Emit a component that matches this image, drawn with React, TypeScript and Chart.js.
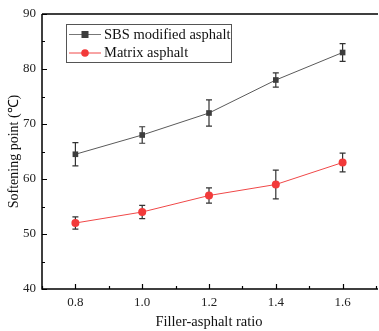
import React, { useEffect, useRef } from "react";
import { Chart, registerables } from "chart.js";

Chart.register(...registerables);

const ratios = [0.8, 1.0, 1.2, 1.4, 1.6];
const sbsValues = [64.5, 68, 72, 78, 83];
const sbsErrors = [2.1, 1.5, 2.4, 1.3, 1.6];
const matrixValues = [52, 54, 57, 59, 63];
const matrixErrors = [1.1, 1.2, 1.4, 2.6, 1.7];
const xMajorTicks = [0.8, 1.0, 1.2, 1.4, 1.6];
const xMinorTicks = [0.7, 0.9, 1.1, 1.3, 1.5, 1.7];
const yMajorTicks = [40, 50, 60, 70, 80, 90];
const yMinorTicks = [45, 55, 65, 75, 85];
const seriesNames = ["SBS modified asphalt", "Matrix asphalt"];

const FONT = '"Liberation Serif", "Times New Roman", serif';
const SBS_COLOR = "#3d3d3d";
const SBS_LINE = "#5a5a5a";
const RED = "#f23a3a";
const RED_LINE = "#f04848";

const errors = [sbsErrors, matrixErrors];

const framePlugin = {
  id: "frameTicks",
  afterDraw(chart: any) {
    const { ctx, chartArea: a, scales } = chart;
    const x = scales.x;
    const y = scales.y;
    ctx.save();
    ctx.strokeStyle = "#000";
    ctx.lineWidth = 1.5;
    ctx.beginPath();
    ctx.moveTo(a.left, a.top);
    ctx.lineTo(a.right + 2, a.top);
    ctx.moveTo(a.left, a.top);
    ctx.lineTo(a.left, a.bottom);
    ctx.lineTo(a.right + 2, a.bottom);
    ctx.stroke();
    ctx.lineWidth = 1.2;
    ctx.beginPath();
    xMajorTicks.forEach((v) => {
      const px = Math.round(x.getPixelForValue(v)) + 0.5;
      ctx.moveTo(px, a.bottom);
      ctx.lineTo(px, a.bottom - 5);
    });
    xMinorTicks.forEach((v) => {
      const px = Math.round(x.getPixelForValue(v)) + 0.5;
      ctx.moveTo(px, a.bottom);
      ctx.lineTo(px, a.bottom - 3);
    });
    yMajorTicks.forEach((v) => {
      const py = Math.round(y.getPixelForValue(v)) + 0.5;
      ctx.moveTo(a.left, py);
      ctx.lineTo(a.left + 5, py);
    });
    yMinorTicks.forEach((v) => {
      const py = Math.round(y.getPixelForValue(v)) + 0.5;
      ctx.moveTo(a.left, py);
      ctx.lineTo(a.left + 3, py);
    });
    ctx.stroke();

    // legend
    const bx = 66.5, by = 24.5, bw = 165, bh = 38;
    ctx.strokeStyle = "#555";
    ctx.lineWidth = 1;
    ctx.fillStyle = "#fff";
    ctx.fillRect(bx, by, bw, bh);
    ctx.strokeRect(bx, by, bw, bh);
    const rows = [34.5, 53];
    rows.forEach((ry, i) => {
      ctx.strokeStyle = i === 0 ? "#777" : RED_LINE;
      ctx.lineWidth = 1;
      ctx.beginPath();
      ctx.moveTo(69, ry);
      ctx.lineTo(101, ry);
      ctx.stroke();
      ctx.fillStyle = i === 0 ? SBS_COLOR : RED;
      if (i === 0) {
        ctx.fillRect(85 - 3.5, ry - 3.5, 7, 7);
      } else {
        ctx.beginPath();
        ctx.arc(85, ry, 3.8, 0, Math.PI * 2);
        ctx.fill();
      }
      ctx.fillStyle = "#111";
      ctx.font = `14.5px ${FONT}`;
      ctx.textBaseline = "middle";
      ctx.textAlign = "left";
      ctx.fillText(seriesNames[i], 104, ry + 0.5);
    });
    ctx.restore();
  },
  beforeDatasetsDraw(chart: any) {
    const { ctx, scales } = chart;
    const x = scales.x;
    const y = scales.y;
    ctx.save();
    ctx.strokeStyle = "#333";
    ctx.lineWidth = 1.2;
    chart.data.datasets.forEach((ds: any, di: number) => {
      ds.data.forEach((p: any, i: number) => {
        const e = errors[di][i];
        const px = x.getPixelForValue(p.x);
        const yt = y.getPixelForValue(p.y + e);
        const yb = y.getPixelForValue(p.y - e);
        ctx.beginPath();
        ctx.moveTo(px, yt);
        ctx.lineTo(px, yb);
        ctx.moveTo(px - 3, yt);
        ctx.lineTo(px + 3, yt);
        ctx.moveTo(px - 3, yb);
        ctx.lineTo(px + 3, yb);
        ctx.stroke();
      });
    });
    ctx.restore();
  },
};

export default function App() {
  const ref = useRef<HTMLCanvasElement | null>(null);
  useEffect(() => {
    document.body.style.margin = "0";
    if (!ref.current) return;
    const chart = new Chart(ref.current, {
      type: "line",
      data: {
        datasets: [
          {
            label: seriesNames[0],
            data: ratios.map((r, i) => ({ x: r, y: sbsValues[i] })),
            borderColor: SBS_LINE,
            borderWidth: 1,
            pointStyle: "rect",
            pointRadius: 4,
            pointBackgroundColor: SBS_COLOR,
            pointBorderColor: SBS_COLOR,
            pointBorderWidth: 0,
          },
          {
            label: seriesNames[1],
            data: ratios.map((r, i) => ({ x: r, y: matrixValues[i] })),
            borderColor: RED_LINE,
            borderWidth: 1,
            pointStyle: "circle",
            pointRadius: 4,
            pointBackgroundColor: RED,
            pointBorderColor: RED,
            pointBorderWidth: 0,
          },
        ],
      },
      options: {
        animation: false,
        responsive: false,
        maintainAspectRatio: false,
        layout: { padding: { top: 14, right: 0, left: 0, bottom: 0 } },
        plugins: { legend: { display: false }, tooltip: { enabled: false } },
        scales: {
          x: {
            type: "linear",
            min: 0.7,
            max: 1.7,
            afterFit: (s: any) => {
              s.height = 42;
            },
            afterBuildTicks: (s: any) => {
              s.ticks = xMajorTicks.map((v) => ({ value: v }));
            },
            grid: { display: false, drawTicks: false },
            border: { display: false },
            ticks: {
              color: "#222",
              font: { family: FONT, size: 13 },
              padding: 6,
              maxRotation: 0,
              callback: (v: any) => Number(v).toFixed(1),
            },
            title: {
              display: true,
              text: "Filler-asphalt ratio",
              color: "#111",
              font: { family: FONT, size: 14.5 },
              padding: 0,
            },
          },
          y: {
            type: "linear",
            min: 40,
            max: 90,
            afterFit: (s: any) => {
              s.width = 42;
            },
            afterBuildTicks: (s: any) => {
              s.ticks = yMajorTicks.map((v) => ({ value: v }));
            },
            grid: { display: false, drawTicks: false },
            border: { display: false },
            ticks: {
              color: "#222",
              font: { family: FONT, size: 13 },
              padding: 6,
            },
            title: {
              display: true,
              text: "Softening point (℃)",
              color: "#111",
              font: { family: FONT, size: 14 },
              padding: 6,
            },
          },
        },
      },
      plugins: [framePlugin],
    });
    return () => chart.destroy();
  }, []);
  return (
    <div style={{ width: 379, height: 331, overflow: "hidden", background: "#fff" }}>
      <canvas ref={ref} width={380} height={331} style={{ display: "block" }} />
    </div>
  );
}
